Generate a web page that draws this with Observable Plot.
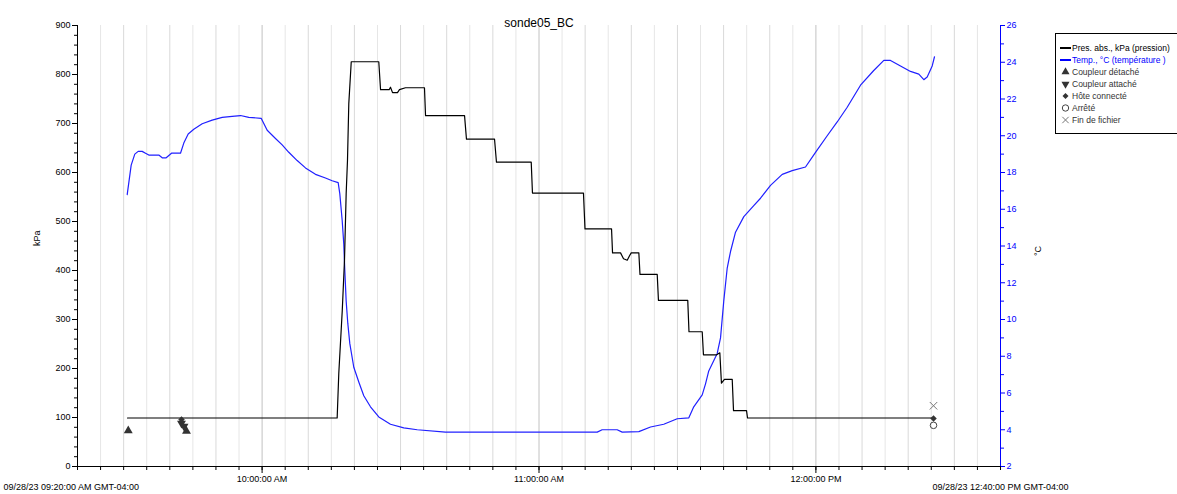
<!DOCTYPE html>
<html><head><meta charset="utf-8">
<script src="https://cdn.jsdelivr.net/npm/d3@7"></script>
<script src="https://cdn.jsdelivr.net/npm/@observablehq/plot@0.6"></script>
<style>body{margin:0;background:#fff;} svg{display:block;}</style>
</head><body><div id="chart"></div>
<script>
const day = "2023-09-28";
const chartTitle = "sonde05_BC";
const startTime = "09:20:00", endTime = "12:40:00";
const startLabel = "09/28/23 09:20:00 AM GMT-04:00";
const endLabel = "09/28/23 12:40:00 PM GMT-04:00";
const leftLabel = "kPa", rightLabel = "°C";
const tempMin = 2, tempMax = 26, presMax = 900;

const pressureTimes = ["09:30:50","10:16:16","10:16:37","10:17:22","10:17:51","10:18:13","10:18:30","10:18:47","10:19:19","10:25:17","10:25:40","10:27:32","10:27:49","10:28:16","10:29:20","10:29:46","10:31:04","10:35:11","10:35:25","10:43:52","10:44:17","10:50:22","10:50:47","10:58:19","10:58:35","11:09:38","11:09:58","11:15:43","11:15:56","11:17:40","11:18:19","11:19:07","11:19:37","11:19:59","11:21:38","11:21:53","11:25:37","11:25:53","11:32:14","11:32:30","11:35:22","11:35:38","11:38:30","11:39:11","11:39:32","11:40:11","11:41:52","11:42:09","11:44:58","11:45:11","12:25:29"];
const pressureValues = [99,99,190,318,420,557,624,740,826,826,769,769,774,763,763,769,773,773,716,716,668,668,621,621,558,558,485,485,436,436,424,421,430,436,436,392,392,339,339,275,275,228,228,232,170,178,178,114,114,99,99];

const tempTimes = ["09:30:46","09:31:38","09:32:25","09:33:09","09:34:01","09:34:44","09:35:27","09:37:37","09:38:21","09:39:13","09:40:22","09:42:19","09:43:02","09:43:59","09:45:12","09:47:01","09:49:11","09:51:21","09:53:31","09:55:19","09:57:07","09:59:48","10:01:06","10:02:54","10:04:21","10:05:47","10:07:36","10:09:24","10:11:34","10:13:44","10:15:11","10:16:29","10:16:50","10:17:21","10:17:42","10:17:55","10:18:13","10:18:34","10:19:00","10:19:52","10:20:57","10:22:02","10:23:29","10:25:17","10:27:49","10:30:42","10:33:37","10:39:44","11:12:37","11:13:41","11:16:56","11:18:02","11:21:38","11:24:10","11:27:02","11:29:57","11:32:28","11:33:32","11:35:22","11:36:05","11:36:47","11:38:37","11:39:20","11:40:02","11:40:47","11:41:30","11:42:35","11:44:23","11:46:32","11:48:00","11:50:10","11:52:42","11:54:52","11:57:45","11:59:55","12:02:27","12:04:37","12:06:47","12:09:40","12:12:32","12:14:43","12:16:10","12:18:20","12:20:30","12:22:18","12:23:23","12:24:07","12:25:12","12:25:42"];
const tempValues = [16.8,18.4,19.0,19.15,19.15,19.05,18.95,18.95,18.8,18.8,19.05,19.05,19.6,20.1,20.35,20.65,20.85,21.0,21.05,21.1,21.0,20.95,20.3,19.85,19.5,19.1,18.65,18.25,17.9,17.7,17.55,17.45,16.85,15.4,14.1,12.7,11.0,9.8,8.7,7.4,6.6,5.85,5.25,4.7,4.3,4.1,4.0,3.87,3.87,4.0,4.0,3.87,3.9,4.15,4.3,4.6,4.65,5.25,5.9,6.5,7.2,8.15,9.0,11.0,12.8,13.7,14.75,15.6,16.2,16.6,17.3,17.9,18.1,18.3,19.1,20.0,20.75,21.55,22.75,23.55,24.1,24.1,23.8,23.5,23.35,23.05,23.2,23.8,24.3];

const eventTypes = ["Coupleur détaché","Coupleur détaché","Coupleur attaché","Coupleur attaché","Hôte connecté","Hôte connecté","Arrêté","Fin de fichier"];
const eventTimes = ["09:31:00","09:43:37","09:42:32","09:43:05","09:42:32","12:25:29","12:25:29","12:25:29"];
const eventValues = [73,72,88,82,96,98,84,124];

const legendLabels = ["Pres. abs., kPa (pression)","Temp., °C (température )","Coupleur détaché","Coupleur attaché","Hôte connecté","Arrêté","Fin de fichier"];

const parse = t => new Date(`${day}T${t}`);
const toY = T => (T - tempMin) / (tempMax - tempMin) * presMax;
const fromY = v => tempMin + v / presMax * (tempMax - tempMin);

const pressure = pressureTimes.map((t, i) => ({time: parse(t), value: pressureValues[i]}));
const temp = tempTimes.map((t, i) => ({time: parse(t), value: toY(tempValues[i])}));
const events = eventTypes.map((k, i) => ({type: k, time: parse(eventTimes[i]), value: eventValues[i]}));
const ev = k => events.filter(d => d.type === k);

const x0 = parse(startTime), x1 = parse(endTime);
const fiveMin = d3.timeMinute.every(5).range(x0, d3.timeMinute.offset(x1, 1));
const inner = fiveMin.filter(d => d > x0 && d < x1);
const hourTicks = inner.filter(d => d.getMinutes() === 0);
const fmt = d3.timeFormat("%I:%M:%S %p");

const chart = Plot.plot({
  width: 1177, height: 494,
  marginTop: 25, marginBottom: 28, marginLeft: 77, marginRight: 177,
  x: {type: "time", domain: [x0, x1]},
  y: {domain: [0, presMax]},
  style: {fontFamily: "'Liberation Sans', Arial, sans-serif", fontSize: "9px", background: "#fff", color: "#000"},
  marks: [
    Plot.ruleX(inner.filter(d => d.getMinutes() % 10 !== 0), {stroke: "#e6e6e6"}),
    Plot.ruleX(inner.filter(d => d.getMinutes() % 10 === 0 && d.getMinutes() !== 0), {stroke: "#d9d9d9"}),
    Plot.ruleX(hourTicks, {stroke: "#c2c2c2"}),
    Plot.axisX(fiveMin, {tickSize: 4, tickFormat: () => "", label: null}),
    Plot.axisX(hourTicks, {tickSize: 7, tickPadding: 2, tickFormat: fmt, label: null}),
    Plot.axisY(d3.range(0, presMax + 1, 20), {tickSize: 3, tickFormat: () => "", label: null}),
    Plot.axisY(d3.range(0, presMax + 1, 100), {tickSize: 5, tickPadding: 2, label: null}),
    Plot.axisY(d3.range(tempMin + 1, tempMax, 2).map(toY), {anchor: "right", tickSize: 3, tickFormat: () => "", color: "#0000ff", label: null}),
    Plot.axisY(d3.range(tempMin, tempMax + 1, 2).map(toY), {anchor: "right", tickSize: 4, tickPadding: 2, tickFormat: d => Math.round(fromY(d)), color: "#0000ff", label: null}),
    Plot.ruleY([0], {stroke: "#000"}),
    Plot.ruleX([x0], {stroke: "#000"}),
    Plot.ruleX([x1], {stroke: "#0000ff"}),
    Plot.line(temp, {x: "time", y: "value", stroke: "#2020ff", strokeWidth: 1.2}),
    Plot.line(pressure, {x: "time", y: "value", stroke: "#000", strokeWidth: 1.2}),
    Plot.dot(ev("Coupleur détaché"), {x: "time", y: "value", symbol: "triangle", r: 3.3, fill: "#333", stroke: "none"}),
    Plot.dot(ev("Coupleur attaché"), {x: "time", y: "value", symbol: "triangle", rotate: 180, r: 3.3, fill: "#333", stroke: "none"}),
    Plot.dot(ev("Hôte connecté"), {x: "time", y: "value", symbol: "square", rotate: 45, r: 2.6, fill: "#333", stroke: "none"}),
    Plot.dot(ev("Arrêté"), {x: "time", y: "value", symbol: "circle", r: 3.3, fill: "none", stroke: "#444", strokeWidth: 1}),
    Plot.dot(ev("Fin de fichier"), {x: "time", y: "value", symbol: "times", r: 3.5, stroke: "#777", strokeWidth: 1}),
    Plot.text([chartTitle], {frameAnchor: "top", dy: -7, fontSize: 12}),
    Plot.text([leftLabel], {frameAnchor: "left", dx: -40, rotate: -90}),
    Plot.text([rightLabel], {frameAnchor: "right", dx: 38, rotate: -90}),
    Plot.text([startLabel], {frameAnchor: "bottom-left", dx: -74, dy: 23, textAnchor: "start"}),
    Plot.text([endLabel], {frameAnchor: "bottom-right", dx: -68, dy: 23, textAnchor: "start"})
  ]
});
document.getElementById("chart").append(chart);

// legend
const svg = chart.tagName.toLowerCase() === "svg" ? chart : chart.querySelector("svg");
const g = d3.select(svg).append("g")
  .attr("font-family", "'Liberation Sans', Arial, sans-serif")
  .attr("font-size", 8.5).attr("text-anchor", "start");
g.append("rect").attr("x", 1055.5).attr("y", 33.5).attr("width", 140).attr("height", 100).attr("fill", "#fff").attr("stroke", "#000");
const rowY = i => 48 + 12 * i;
const sym = (type, size) => d3.symbol(type, size)();
legendLabels.forEach((lab, i) => {
  const y = rowY(i), cx = 1065.5;
  if (i === 0 || i === 1) {
    g.append("line").attr("x1", 1060).attr("x2", 1071).attr("y1", y).attr("y2", y).attr("stroke", i === 0 ? "#000" : "#0000ff").attr("stroke-width", 2);
  } else if (i === 2) {
    g.append("path").attr("d", sym(d3.symbolTriangle, 28)).attr("transform", `translate(${cx},${y})`).attr("fill", "#333");
  } else if (i === 3) {
    g.append("path").attr("d", sym(d3.symbolTriangle, 28)).attr("transform", `translate(${cx},${y}) rotate(180)`).attr("fill", "#333");
  } else if (i === 4) {
    g.append("path").attr("d", sym(d3.symbolSquare, 18)).attr("transform", `translate(${cx},${y}) rotate(45)`).attr("fill", "#333");
  } else if (i === 5) {
    g.append("circle").attr("cx", cx).attr("cy", y).attr("r", 3.2).attr("fill", "none").attr("stroke", "#444");
  } else {
    g.append("path").attr("d", sym(d3.symbolTimes, 28)).attr("transform", `translate(${cx},${y})`).attr("fill", "none").attr("stroke", "#777");
  }
  g.append("text").attr("x", 1072).attr("y", y).attr("dy", "0.35em")
    .attr("fill", i === 0 ? "#000" : i === 1 ? "#0000ff" : "#333").text(lab);
});
</script>
</body></html>
